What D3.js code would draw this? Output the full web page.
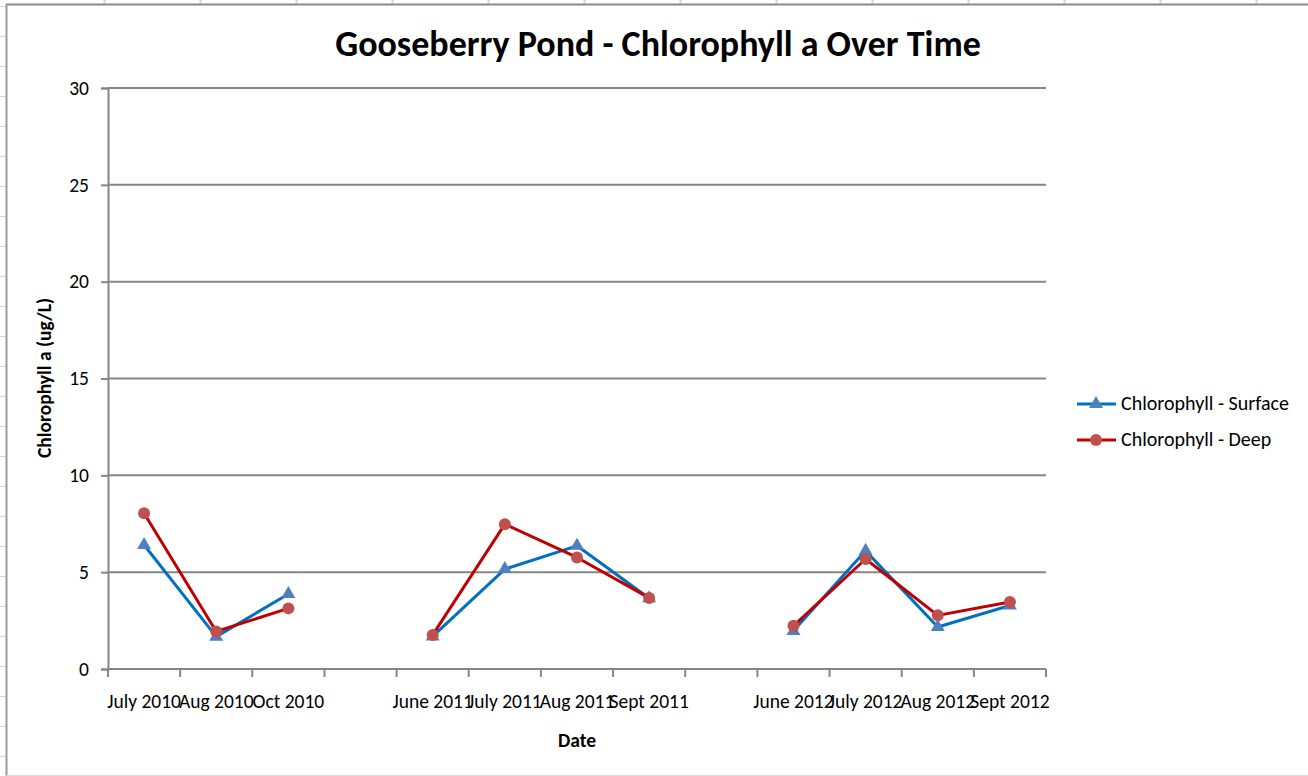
<!DOCTYPE html>
<html><head><meta charset="utf-8">
<script src="https://cdn.jsdelivr.net/npm/d3@7"></script>
<style>
html,body{margin:0;padding:0;background:#fff;}
svg{display:block;font-family:Calibri, Carlito, Lato, sans-serif;}
svg text{font-family:Calibri, Carlito, Lato, sans-serif;}
</style></head>
<body>
<svg id="c" width="1308" height="776"></svg>
<script>
const categories = ["July 2010","Aug 2010","Oct 2010","","June 2011","July 2011","Aug 2011","Sept 2011","","June 2012","July 2012","Aug 2012","Sept 2012"];
const surface = [6.4, 1.67, 3.87, null, 1.68, 5.16, 6.36, 3.65, null, 1.97, 6.1, 2.17, 3.28];
const deep    = [8.04, 1.94, 3.13, null, 1.76, 7.48, 5.76, 3.67, null, 2.23, 5.68, 2.77, 3.46];
const yTicks = [0,5,10,15,20,25,30];
const seriesNames = ["Chlorophyll - Surface","Chlorophyll - Deep"];

const svg = d3.select("#c");
const W = 1308, H = 776;
const FS = 19.5;

// spreadsheet background gridlines
const bg = svg.append("g");
for (let y = 6; y < H; y += 30) bg.append("line").attr("x1",0).attr("x2",6).attr("y1",y+0.5).attr("y2",y+0.5).attr("stroke","#d0d7e5");
for (let x = 104; x < W; x += 96) bg.append("line").attr("x1",x+0.5).attr("x2",x+0.5).attr("y1",0).attr("y2",4).attr("stroke","#d0d7e5").attr("stroke-width",2);
// chart frame
svg.append("rect").attr("x",7).attr("y",4).attr("width",W+10).attr("height",771).attr("fill","#fff");
svg.append("line").attr("x1",6).attr("x2",W).attr("y1",4.5).attr("y2",4.5).attr("stroke","#8c8c8c").attr("stroke-width",2);
svg.append("line").attr("x1",6.5).attr("x2",6.5).attr("y1",4).attr("y2",H).attr("stroke","#9a9a9a").attr("stroke-width",2);
svg.append("line").attr("x1",6).attr("x2",W).attr("y1",775.5).attr("y2",775.5).attr("stroke","#d9d9d9").attr("stroke-width",1);

const L = 108, R = 1046, T = 88, B = 669;
const x = d3.scaleBand().domain(d3.range(categories.length)).range([L, R]);
const y = d3.scaleLinear().domain([0,30]).range([B, T]);
const xc = i => x(i) + x.bandwidth()/2;

// gridlines
svg.append("g").selectAll("line").data(yTicks.filter(d=>d>0)).join("line")
  .attr("x1",L).attr("x2",R).attr("y1",d=>y(d)).attr("y2",d=>y(d))
  .attr("stroke","#868686").attr("stroke-width",2);

// y axis
const yAxis = svg.append("g").attr("transform",`translate(${L},0)`)
  .call(d3.axisLeft(y).tickValues(yTicks).tickSize(7).tickPadding(12));
yAxis.attr("font-size",null).attr("font-family",null);
yAxis.select(".domain").attr("stroke","#868686").attr("stroke-width",2);
yAxis.selectAll(".tick line").attr("stroke","#868686").attr("stroke-width",2);
yAxis.selectAll("text").style("font-size",FS+"px").attr("fill","#000");

// x axis
const xAxis = svg.append("g").attr("transform",`translate(0,${B})`)
  .call(d3.axisBottom(x).tickFormat(i=>categories[i]).tickSize(0));
xAxis.attr("font-size",null).attr("font-family",null);
xAxis.select(".domain").attr("stroke","#868686").attr("stroke-width",2).attr("d",`M${L},0H${R}`);
xAxis.selectAll("text").style("font-size",FS+"px").attr("fill","#000").attr("dy",null).attr("y",39);
const bounds = d3.range(categories.length+1).map(i => i < categories.length ? x(i) : R);
svg.append("g").selectAll("line").data(bounds).join("line")
  .attr("x1",d=>d).attr("x2",d=>d).attr("y1",B).attr("y2",B+8)
  .attr("stroke","#868686").attr("stroke-width",2);

// lines
const line = d3.line().defined(d=>d.v!=null).x(d=>xc(d.i)).y(d=>y(d.v));
const sData = surface.map((v,i)=>({i,v}));
const dData = deep.map((v,i)=>({i,v}));
svg.append("path").datum(sData).attr("d",line).attr("fill","none").attr("stroke","#0070c0").attr("stroke-width",3).attr("stroke-linejoin","round");
svg.append("path").datum(dData).attr("d",line).attr("fill","none").attr("stroke","#c00000").attr("stroke-width",3).attr("stroke-linejoin","round");

const tri = d3.symbol().type(d3.symbolTriangle).size(85);
svg.append("g").selectAll("path").data(sData.filter(d=>d.v!=null)).join("path")
  .attr("d",tri).attr("transform",d=>`translate(${xc(d.i)},${y(d.v)})`).attr("fill","#4f81bd");
svg.append("g").selectAll("circle").data(dData.filter(d=>d.v!=null)).join("circle")
  .attr("cx",d=>xc(d.i)).attr("cy",d=>y(d.v)).attr("r",6).attr("fill","#c0504d");

// title
svg.append("text").attr("x",658).attr("y",56).attr("text-anchor","middle")
  .style("font-size","36px").attr("font-weight","bold").attr("fill","#000")
  .text("Gooseberry Pond - Chlorophyll a Over Time");
svg.append("text").attr("x",577).attr("y",747).attr("text-anchor","middle")
  .style("font-size",FS+"px").attr("font-weight","bold").text("Date");
svg.append("text").attr("transform","translate(51,378) rotate(-90)").attr("text-anchor","middle")
  .style("font-size",FS+"px").attr("font-weight","bold").text("Chlorophyll a (ug/L)");

// legend
const leg = svg.append("g");
const ly = [404, 440];
const colors = ["#0070c0","#c00000"];
ly.forEach((yy,k)=>{
  leg.append("line").attr("x1",1077).attr("x2",1116).attr("y1",yy).attr("y2",yy).attr("stroke",colors[k]).attr("stroke-width",3);
  if (k===0) leg.append("path").attr("d",tri).attr("transform",`translate(1096,${yy})`).attr("fill","#4f81bd");
  else leg.append("circle").attr("cx",1096).attr("cy",yy).attr("r",6).attr("fill","#c0504d");
  leg.append("text").attr("x",1121).attr("y",yy+6).style("font-size","20px").text(seriesNames[k]);
});
</script>
</body></html>
